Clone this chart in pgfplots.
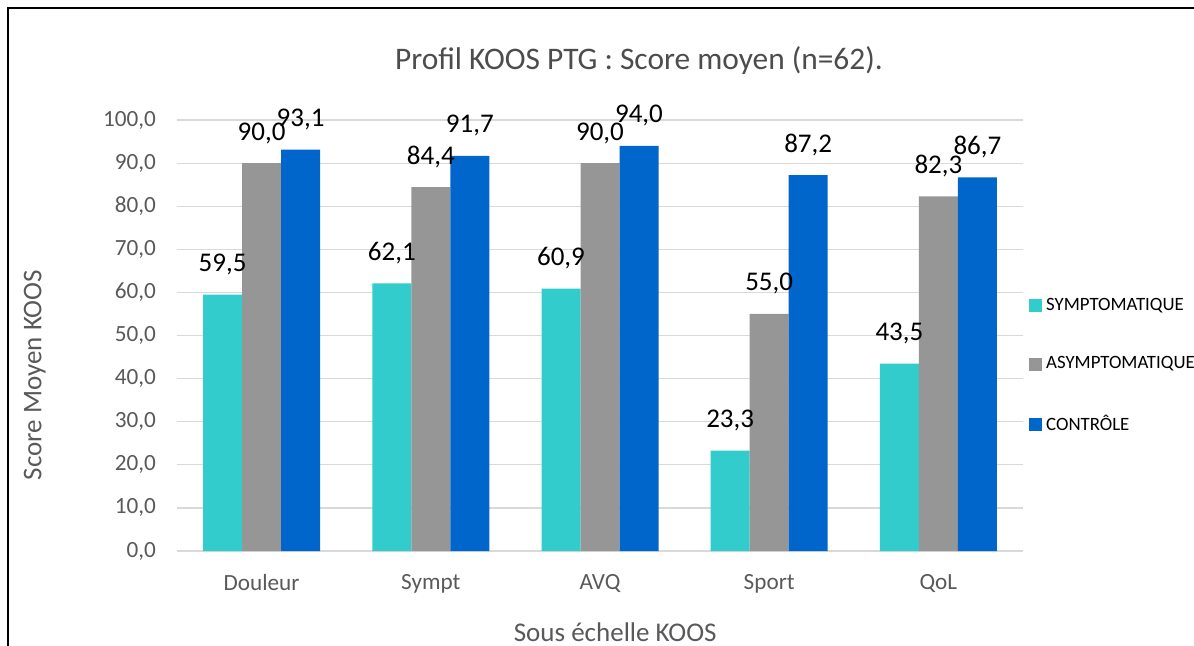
\documentclass[border=0pt]{standalone}
\usepackage{pgfplots}
\pgfplotsset{compat=1.18}
\usepackage{fontspec}
\setmainfont{Carlito}
\definecolor{symp}{HTML}{33CCCC}
\definecolor{asymp}{HTML}{969696}
\definecolor{ctrl}{HTML}{0066CC}
\definecolor{txt}{HTML}{595959}
\definecolor{gridc}{HTML}{D9D9D9}
\begin{document}
\begin{tikzpicture}
\useasboundingbox (0pt,0pt) rectangle (597pt,322.5pt);
\clip (0pt,0pt) rectangle (597pt,322.5pt);
\draw[line width=1pt] (4pt,-10pt) -- (4pt,318.5pt) -- (620pt,318.5pt);
\begin{axis}[
    at={(88.5pt,47pt)}, anchor=south west,
    scale only axis, width=423pt, height=215.5pt,
    ybar=0pt, bar width=19.5pt,
    xmin=-0.5, xmax=4.5, ymin=0, ymax=100,
    xtick={0,1,2,3,4},
    xticklabels={Douleur,Sympt,AVQ,Sport,QoL},
    ytick={0,10,20,30,40,50,60,70,80,90,100},
    ymajorgrids, grid style={gridc, line width=0.6pt},
    axis line style={draw=none},
    major tick length=0pt,
    tick label style={font=\fontsize{11.6}{13}\selectfont, text=txt},
    xticklabel style={yshift=-8pt},
    yticklabel style={xshift=-7pt},
    /pgf/number format/assume math mode=true,
    /pgf/number format/fixed,
    /pgf/number format/fixed zerofill,
    /pgf/number format/precision=1,
    /pgf/number format/use comma,
    title={Profil KOOS PTG : Score moyen (n=62).},
    title style={at={(axis description cs:0.546,1.11)}, anchor=center,
        font=\fontsize{15.7}{18}\selectfont, text=txt!85!black},
    xlabel={Sous échelle KOOS},
    xlabel style={at={(axis description cs:0.518,-0.188)}, anchor=center,
        font=\fontsize{13.5}{16}\selectfont, text=txt},
    ylabel={Score Moyen KOOS},
    ylabel style={at={(axis description cs:-0.168,0.408)}, anchor=center,
        font=\fontsize{13.5}{16}\selectfont, text=txt},
    nodes near coords, point meta=y,
    every node near coord/.append style={anchor=base, yshift=11.5pt,
        font=\fontsize{13.5}{16}\selectfont, text=black},
    legend style={at={(axis description cs:1.0,0.606)}, anchor=north west,
        draw=none, fill=none, font=\fontsize{9.4}{11}\selectfont, text=black,
        row sep=17.6pt},
    legend cell align=left,
    legend image code/.code={\fill[#1] (0pt,-3.2pt) rectangle (6.4pt,3.2pt);},
]
\addplot[fill=symp, draw=none] coordinates {(0,59.5) (1,62.1) (2,60.9) (3,23.3) (4,43.5)};
\addplot[fill=asymp, draw=none] coordinates {(0,90.0) (1,84.4) (2,90.0) (3,55.0) (4,82.3)};
\addplot[fill=ctrl, draw=none] coordinates {(0,93.1) (1,91.7) (2,94.0) (3,87.2) (4,86.7)};
\legend{SYMPTOMATIQUE, ASYMPTOMATIQUE, CONTRÔLE}
\end{axis}
\end{tikzpicture}
\end{document}
